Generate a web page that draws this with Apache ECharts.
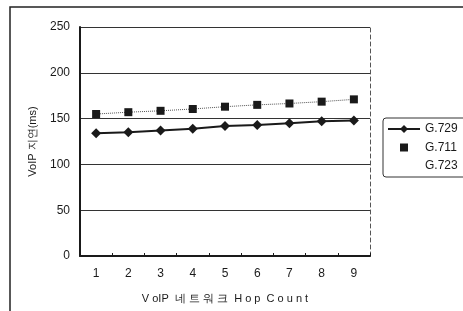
<!DOCTYPE html>
<html>
<head>
<meta charset="utf-8">
<script src="https://cdn.jsdelivr.net/npm/echarts@6/dist/echarts.min.js"></script>
<style>
  html, body { margin: 0; padding: 0; background: #fff; }
  #chart { width: 463px; height: 311px; }
</style>
</head>
<body>
<div id="chart"></div>
<script>
const hopCounts = ["1", "2", "3", "4", "5", "6", "7", "8", "9"];
const g729 = [134, 135, 137, 139, 142, 143, 145, 147, 148];
const g711 = [155, 157, 158.5, 160.5, 163, 165, 166.5, 168.5, 171];
const g723 = [];
const yTicks = [0, 50, 100, 150, 200, 250];

const font = "Liberation Sans, Arial, sans-serif";
const ink = "#1a1a1a";

const myChart = echarts.init(document.getElementById("chart"));

const option = {
  backgroundColor: "#fff",
  animation: false,
  textStyle: { fontFamily: font, color: ink },
  graphic: [
    {
      type: "rect",
      shape: { x: 10, y: 7, width: 470, height: 320 },
      style: { fill: "none", stroke: "#222", lineWidth: 1.5 },
      silent: true,
    },
  ],
  legend: {
    orient: "vertical",
    left: 383,
    top: 118,
    padding: [5, 14, 5, 4],
    itemWidth: 32,
    itemHeight: 10,
    itemGap: 6.5,
    borderColor: "#333",
    borderWidth: 1,
    borderRadius: 3,
    textStyle: { fontFamily: font, fontSize: 12, color: ink },
    data: [
      { name: "G.729" },
      { name: "G.711", lineStyle: { opacity: 0 } },
      { name: "G.723", itemStyle: { opacity: 0 }, lineStyle: { opacity: 0 } },
    ],
  },
  grid: {
    left: 80,
    right: 93,
    top: 27,
    bottom: 55,
  },
  xAxis: {
    type: "category",
    data: hopCounts,
    boundaryGap: true,
    name: "V oIP  네 트 워 크  H o p  C o u n t",
    nameLocation: "middle",
    nameGap: 37,
    nameTextStyle: { fontFamily: font, fontSize: 11, color: ink },
    axisLine: { lineStyle: { color: ink, width: 2 } },
    axisTick: { show: true, inside: true, length: 3, lineStyle: { color: ink } },
    axisLabel: { fontFamily: font, fontSize: 12, color: ink, margin: 12 },
  },
  yAxis: [
    {
      type: "value",
      min: yTicks[0],
      max: yTicks[yTicks.length - 1],
      interval: 50,
      name: "VoIP 지연(ms)",
      nameLocation: "middle",
      nameGap: 42,
      nameTextStyle: { fontFamily: font, fontSize: 11, color: ink },
      axisLine: { show: true, lineStyle: { color: ink, width: 2 } },
      axisTick: { show: false },
      axisLabel: { fontFamily: font, fontSize: 12, color: ink, margin: 10 },
      splitLine: { lineStyle: { color: "#333", width: 1 } },
    },
    {
      type: "value",
      position: "right",
      axisLine: { show: true, lineStyle: { color: "#555", width: 1, type: [4, 3] } },
      axisTick: { show: false },
      axisLabel: { show: false },
      splitLine: { show: false },
    },
  ],
  series: [
    {
      name: "G.729",
      type: "line",
      data: g729,
      symbol: "diamond",
      symbolSize: 10,
      itemStyle: { color: ink },
      lineStyle: { color: ink, width: 2 },
    },
    {
      name: "G.711",
      type: "line",
      data: g711,
      symbol: "rect",
      symbolSize: 8,
      itemStyle: { color: ink },
      lineStyle: { color: "#555", width: 1, type: "dotted" },
    },
    {
      name: "G.723",
      type: "line",
      data: g723,
      symbol: "none",
      itemStyle: { color: ink },
      lineStyle: { color: ink, width: 1 },
    },
  ],
};

myChart.setOption(option);
</script>
</body>
</html>
